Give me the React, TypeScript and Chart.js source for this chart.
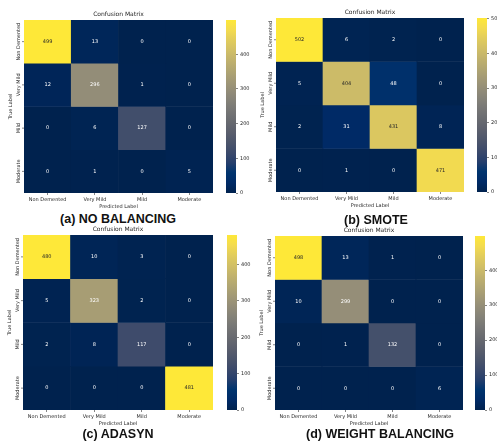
import React, { useEffect, useRef } from "react";
import { Chart, registerables } from "chart.js";

Chart.register(...registerables);

// ---------- data ----------
const predictedLabels = ["Non Demented", "Very Mild", "Mild", "Moderate"];
const trueLabels = ["Non Demented", "Very Mild", "Mild", "Moderate"];

const noBalancing = [
  [499, 13, 0, 0],
  [12, 296, 1, 0],
  [0, 6, 127, 0],
  [0, 1, 0, 5],
];
const smote = [
  [502, 6, 2, 0],
  [5, 404, 48, 0],
  [2, 31, 431, 8],
  [0, 1, 0, 471],
];
const adasyn = [
  [480, 10, 3, 0],
  [5, 323, 2, 0],
  [2, 8, 117, 0],
  [0, 0, 0, 481],
];
const weightBalancing = [
  [498, 13, 1, 0],
  [10, 299, 0, 0],
  [0, 1, 132, 0],
  [0, 0, 0, 6],
];

const captions = ["(a) NO BALANCING", "(b) SMOTE", "(c) ADASYN", "(d) WEIGHT BALANCING"];
const colorbarTicks = [0, 100, 200, 300, 400, 500];

// ---------- colormap (cividis) ----------
const CIVIDIS: number[][] = [
  [0, 0, 34, 78],
  [0.058824, 0, 42, 102],
  [0.117647, 0, 52, 110],
  [0.176471, 39, 63, 108],
  [0.235294, 60, 74, 107],
  [0.294118, 76, 85, 107],
  [0.352941, 91, 95, 109],
  [0.411765, 104, 106, 112],
  [0.470588, 117, 117, 117],
  [0.529412, 131, 129, 120],
  [0.588235, 146, 140, 120],
  [0.647059, 161, 152, 118],
  [0.705882, 176, 165, 114],
  [0.764706, 192, 177, 109],
  [0.823529, 209, 191, 102],
  [0.882353, 225, 204, 92],
  [0.941176, 243, 219, 79],
  [1, 254, 232, 56],
];

function cividis(t: number): number[] {
  const v = Math.max(0, Math.min(1, t));
  for (let k = 1; k < CIVIDIS.length; k++) {
    const a = CIVIDIS[k - 1];
    const b = CIVIDIS[k];
    if (v <= b[0]) {
      const f = (v - a[0]) / (b[0] - a[0]);
      return [0, 1, 2].map((c) => Math.round(a[c + 1] + (b[c + 1] - a[c + 1]) * f));
    }
  }
  const last = CIVIDIS[CIVIDIS.length - 1];
  return [last[1], last[2], last[3]];
}
const rgbStr = (c: number[]) => `rgb(${c[0]},${c[1]},${c[2]})`;
function textColorFor(c: number[]) {
  const lin = c.map((x) => {
    const s = x / 255;
    return s <= 0.03928 ? s / 12.92 : Math.pow((s + 0.055) / 1.055, 2.4);
  });
  const L = 0.2126 * lin[0] + 0.7152 * lin[1] + 0.0722 * lin[2];
  return L >= 0.408 ? "#262626" : "#ffffff";
}

const FONT = "'DejaVu Sans', sans-serif";
const TXT = "#262626";

// ---------- layout (page pixels) ----------
const panels = [
  { matrix: noBalancing, L: 24, T: 20, W: 189, H: 173, cbX: 226, capX: 118, capY: 219 },
  { matrix: smote, L: 276, T: 18, W: 188, H: 174, cbX: 477, capX: 376, capY: 220 },
  { matrix: adasyn, L: 23, T: 235, W: 190, H: 175, cbX: 227, capX: 118, capY: 434 },
  { matrix: weightBalancing, L: 275, T: 236, W: 188, H: 174, cbX: 475, capX: 380, capY: 434 },
];

const PAD_L = 24;
const PAD_T = 20;
const PAD_R = 6;
const AXIS_H = 17;

function Heatmap({ matrix, L, T, W, H }: any) {
  const ref = useRef<HTMLCanvasElement>(null);
  useEffect(() => {
    if (!ref.current) return;
    const vmax = Math.max(...matrix.flat());
    const annot = {
      id: "annot",
      afterDatasetsDraw(chart: any) {
        const { ctx, chartArea: ca, scales } = chart;
        const x = scales.x;
        const y = scales.y;
        ctx.save();
        ctx.textAlign = "center";
        ctx.textBaseline = "middle";
        ctx.font = `5px ${FONT}`;
        matrix.forEach((row: number[], i: number) => {
          const py = y.getPixelForValue(i + 0.5);
          row.forEach((v: number, j: number) => {
            const px = x.getPixelForValue(j);
            ctx.fillStyle = textColorFor(cividis(v / vmax));
            ctx.fillText(String(v), px, py);
          });
          // row tick
          ctx.strokeStyle = "#333";
          ctx.lineWidth = 0.6;
          ctx.beginPath();
          ctx.moveTo(ca.left - 2, py);
          ctx.lineTo(ca.left, py);
          ctx.stroke();
          // row label
          ctx.save();
          ctx.translate(ca.left - 5.5, py);
          ctx.rotate(-Math.PI / 2);
          ctx.fillStyle = TXT;
          ctx.fillText(trueLabels[i], 0, 0);
          ctx.restore();
        });
        ctx.fillStyle = TXT;
        ctx.save();
        ctx.translate(ca.left - 13.5, (ca.top + ca.bottom) / 2);
        ctx.rotate(-Math.PI / 2);
        ctx.fillText("True Label", 0, 0);
        ctx.restore();
        ctx.font = `6px ${FONT}`;
        ctx.fillText("Confusion Matrix", (ca.left + ca.right) / 2, ca.top - 6);
        ctx.restore();
      },
    };
    const chart = new Chart(ref.current, {
      type: "bar",
      data: {
        labels: predictedLabels,
        datasets: matrix.map((row: number[], i: number) => ({
          label: trueLabels[i],
          data: row.map(() => [i, i + 1]),
          backgroundColor: row.map((v) => rgbStr(cividis(v / vmax))),
          borderWidth: 0,
          barPercentage: 1,
          categoryPercentage: 1,
        })),
      },
      options: {
        animation: false,
        responsive: false,
        layout: { padding: { left: PAD_L, top: PAD_T, right: PAD_R, bottom: 0 } },
        plugins: {
          legend: { display: false },
          tooltip: { enabled: false },
          title: { display: false },
        },
        scales: {
          x: {
            stacked: true,
            offset: true,
            grid: {
              display: true,
              drawOnChartArea: false,
              offset: false,
              tickLength: 2,
              color: "#333",
              lineWidth: 0.6,
            },
            border: { display: false },
            ticks: {
              font: { family: FONT, size: 5 },
              color: TXT,
              padding: 1.5,
              maxRotation: 0,
              minRotation: 0,
              autoSkip: false,
            },
            title: {
              display: true,
              text: "Predicted Label",
              font: { family: FONT, size: 5 },
              color: TXT,
              padding: { top: 0, bottom: 0.5 },
            },
            afterFit: (s: any) => {
              s.height = AXIS_H;
            },
          },
          y: { display: false, min: 0, max: 4, reverse: true, stacked: false },
        },
      } as any,
      plugins: [annot],
    });
    return () => chart.destroy();
  }, []);
  return (
    <canvas
      ref={ref}
      width={W + PAD_L + PAD_R}
      height={H + PAD_T + AXIS_H}
      style={{ position: "absolute", left: L - PAD_L, top: T - PAD_T }}
    />
  );
}

const CB_W = 10;
const CB_AXIS = 22;
const CB_PAD = 6;

function ColorBar({ matrix, cbX, T, H }: any) {
  const ref = useRef<HTMLCanvasElement>(null);
  useEffect(() => {
    if (!ref.current) return;
    const vmax = Math.max(...matrix.flat());
    const chart = new Chart(ref.current, {
      type: "bar",
      data: {
        labels: [""],
        datasets: [
          {
            data: [[0, vmax]],
            backgroundColor: (c: any) => {
              const ca = c.chart.chartArea;
              if (!ca) return rgbStr(cividis(0.5));
              const g = c.chart.ctx.createLinearGradient(0, ca.bottom, 0, ca.top);
              CIVIDIS.forEach((s) => g.addColorStop(s[0], `rgb(${s[1]},${s[2]},${s[3]})`));
              return g;
            },
            borderWidth: 0,
            barPercentage: 1,
            categoryPercentage: 1,
          },
        ],
      },
      options: {
        animation: false,
        responsive: false,
        layout: { padding: { left: 0, right: 0, top: CB_PAD, bottom: CB_PAD } },
        plugins: { legend: { display: false }, tooltip: { enabled: false } },
        scales: {
          x: { display: false },
          y: {
            position: "right",
            min: 0,
            max: vmax,
            grid: { drawOnChartArea: false, tickLength: 2, color: "#333", lineWidth: 0.6 },
            border: { display: false },
            ticks: {
              font: { family: FONT, size: 5 },
              color: TXT,
              padding: 2,
            },
            afterBuildTicks: (s: any) => {
              s.ticks = colorbarTicks.filter((v) => v <= vmax).map((v) => ({ value: v }));
            },
            afterFit: (s: any) => {
              s.width = CB_AXIS;
            },
          },
        },
      } as any,
    });
    return () => chart.destroy();
  }, []);
  return (
    <canvas
      ref={ref}
      width={CB_W + CB_AXIS}
      height={H + CB_PAD * 2}
      style={{ position: "absolute", left: cbX, top: T - CB_PAD }}
    />
  );
}

export default function App() {
  useEffect(() => {
    document.body.style.margin = "0";
  }, []);
  return (
    <div
      style={{
        position: "fixed",
        left: 0,
        top: 0,
        width: 497,
        height: 444,
        overflow: "hidden",
        background: "#ffffff",
      }}
    >
      {panels.map((p, k) => (
        <React.Fragment key={k}>
          <Heatmap {...p} />
          <ColorBar {...p} />
          <div
            style={{
              position: "absolute",
              left: p.capX - 120,
              top: p.capY - 8,
              width: 240,
              height: 16,
              lineHeight: "16px",
              textAlign: "center",
              fontFamily: "'Liberation Sans', Arial, sans-serif",
              fontWeight: "bold",
              fontSize: 12.5,
              color: "#111",
              whiteSpace: "nowrap",
            }}
          >
            {captions[k]}
          </div>
        </React.Fragment>
      ))}
    </div>
  );
}
